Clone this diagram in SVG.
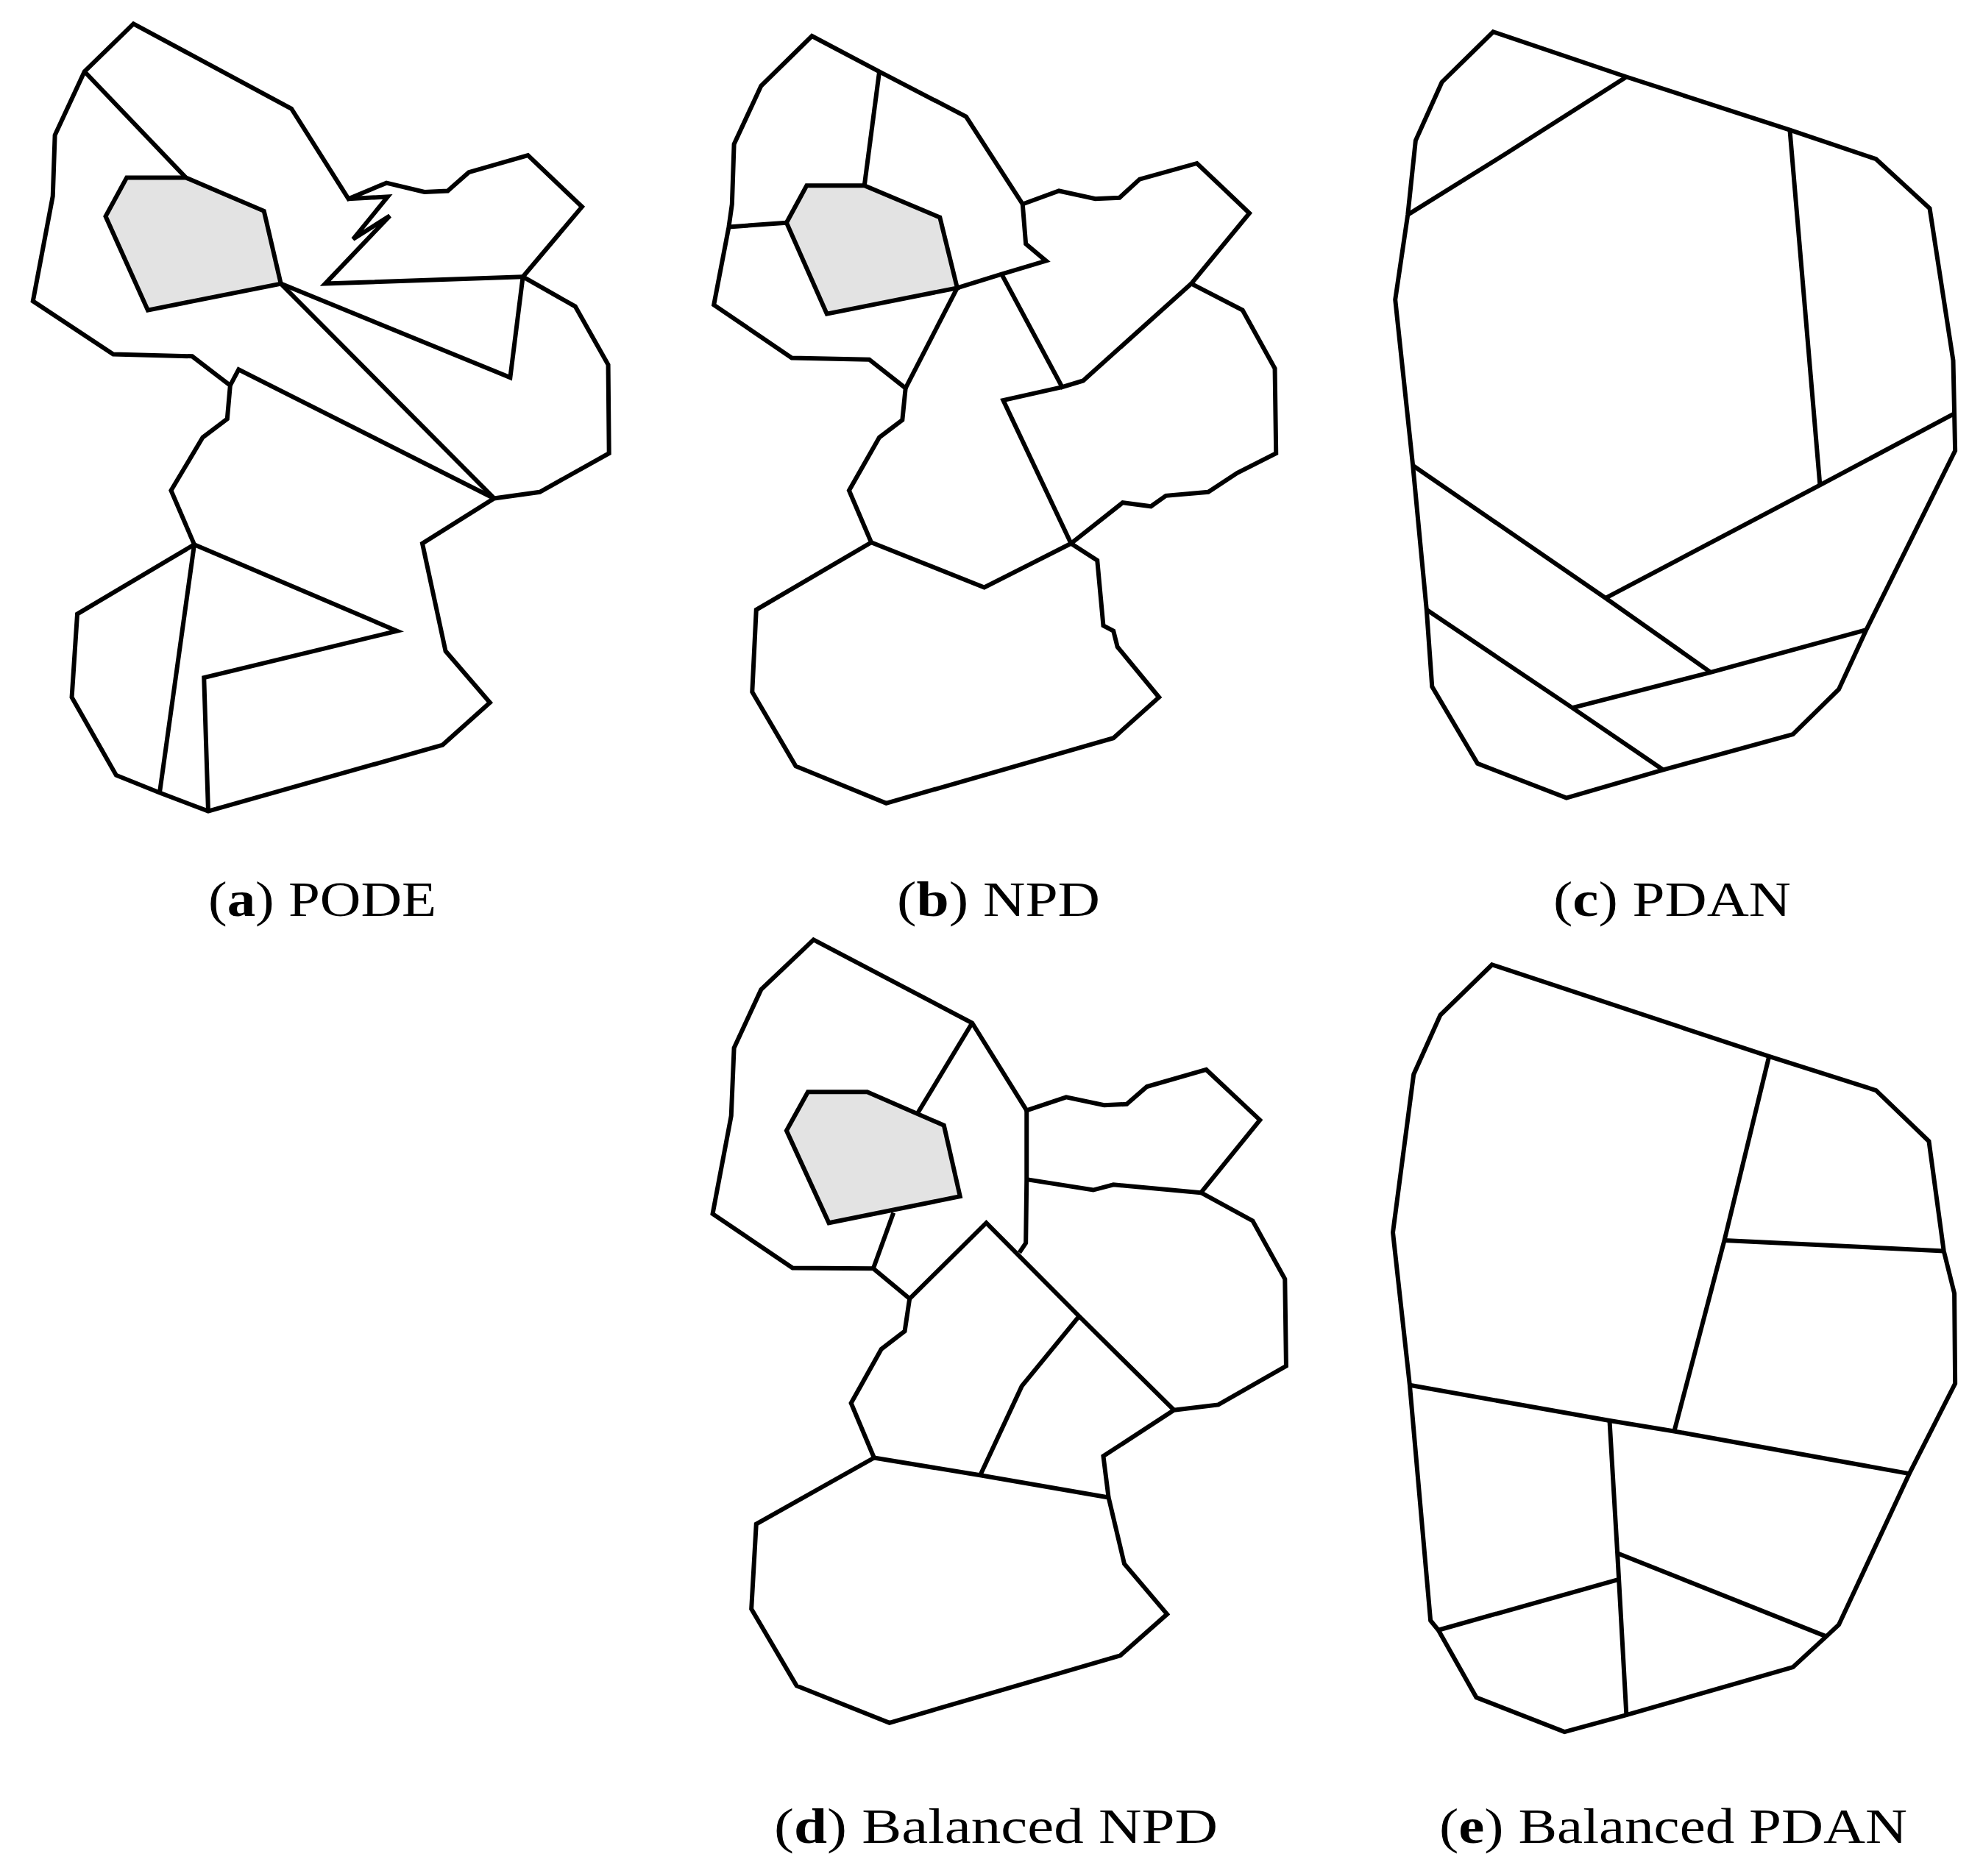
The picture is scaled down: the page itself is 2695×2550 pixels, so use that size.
<svg xmlns="http://www.w3.org/2000/svg" width="2695" height="2550" viewBox="0 0 2695 2550">
<style>
.e{fill:none;stroke:#000;stroke-width:6;stroke-linejoin:miter;stroke-miterlimit:6;vector-effect:non-scaling-stroke}
.g{fill:#e3e3e3;stroke:#000;stroke-width:6;stroke-linejoin:miter;vector-effect:non-scaling-stroke}
.lab{font-family:"Liberation Serif","DejaVu Serif",serif;font-size:68px;fill:#000}
.b{font-weight:bold}
</style>
<rect width="2695" height="2550" fill="#fff"/>
<g id="panel-a" transform="translate(0,0) scale(0.574,0.7207)">
<path class="e" d="M316,45 L690,205 L825,375 L915,345 L1005,362 L1060,360 L1110,325 L1250,293 L1378,390 L1238,522 L1362,578 L1440,688 L1442,855 L1278,928 L1170,940 L1000,1025 L1055,1228 L1160,1325 L1048,1405 L493,1530 L378,1495 L275,1462 L170,1315 L183,1158 L460,1027 L405,925 L480,825 L538,790 L545,727 L455,672 L268,668 L78,568 L125,370 L130,255 L200,135 Z"/>
<path class="e" d="M825,375 L918,371 L836,451 L923,407 L770,535 L1238,522"/>
<path class="e" d="M200,135 L440,335"/>
<path class="g" d="M300,335 L440,335 L625,398 L665,535 L350,585 L250,408 Z"/>
<path class="e" d="M665,535 L1208,712 L1238,522"/>
<path class="e" d="M665,535 L1170,940"/>
<path class="e" d="M545,727 L565,697 L1170,940"/>
<path class="e" d="M460,1027 L940,1190 L483,1278 L493,1530"/>
<path class="e" d="M460,1027 L378,1495"/>
</g>
<g id="panel-b" transform="translate(940,0) scale(0.5485,0.7207)">
<path class="e" d="M298,68 L465,135 L680,220 L820,385 L910,360 L1000,375 L1060,373 L1110,338 L1252,308 L1382,402 L1238,535 L1365,585 L1445,695 L1448,855 L1352,892 L1280,928 L1175,935 L1138,955 L1068,948 L940,1025 L1005,1057 L1020,1180 L1045,1190 L1055,1220 L1158,1315 L1045,1392 L482,1515 L258,1445 L150,1305 L160,1150 L445,1023 L390,925 L465,825 L522,792 L530,732 L440,678 L248,675 L55,575 L92,428 L100,385 L105,272 L172,162 Z"/>
<path class="e" d="M465,135 L428,350"/>
<path class="g" d="M285,350 L428,350 L615,410 L658,543 L335,592 L235,420 Z"/>
<path class="e" d="M92,428 L235,420"/>
<path class="e" d="M820,385 L828,460 L878,492 L768,517 L658,543"/>
<path class="e" d="M658,543 L530,732"/>
<path class="e" d="M768,517 L918,730 L970,718 L1238,535"/>
<path class="e" d="M918,730 L772,755 L940,1025"/>
<path class="e" d="M445,1023 L725,1108 L940,1025"/>
</g>
<g id="panel-c" transform="translate(1860,0) scale(0.5325,0.7207)">
<path class="e" d="M318,60 L658,145 L1075,245 L1295,300 L1432,393 L1492,680 L1495,780 L1497,850 L1270,1188 L1200,1300 L1083,1385 L752,1452 L505,1505 L278,1440 L162,1295 L148,1150 L113,878 L68,565 L100,405 L120,265 L187,155 Z"/>
<path class="e" d="M100,405 L350,290 L658,145"/>
<path class="e" d="M1075,245 L1152,915"/>
<path class="e" d="M1495,780 L1152,915 L605,1128"/>
<path class="e" d="M113,878 L605,1128 L873,1268"/>
<path class="e" d="M148,1150 L520,1335 L752,1452"/>
<path class="e" d="M520,1335 L873,1268 L1270,1188"/>
</g>
<g id="panel-d" transform="translate(940,1250) scale(0.5485,0.7207)">
<path class="e" d="M302,38 L695,195 L830,360 L928,335 L1022,350 L1078,348 L1128,315 L1275,283 L1408,378 L1262,515 L1390,568 L1470,678 L1473,842 L1305,915 L1195,925 L1020,1012 L1033,1090 L1072,1215 L1178,1310 L1062,1388 L490,1515 L260,1445 L148,1300 L160,1140 L452,1015 L395,912 L470,810 L528,776 L540,715 L450,658 L250,657 L52,555 L98,370 L105,242 L172,132 Z"/>
<path class="e" d="M695,195 L560,365"/>
<path class="g" d="M288,325 L435,325 L625,388 L665,522 L340,572 L235,398 Z"/>
<path class="e" d="M500,553 L450,658"/>
<path class="e" d="M830,360 L830,490 L828,610 L812,628"/>
<path class="e" d="M830,490 L995,510 L1045,500 L1262,515"/>
<path class="e" d="M540,715 L730,572 L960,748 L1195,925"/>
<path class="e" d="M960,748 L818,880 L715,1048"/>
<path class="e" d="M452,1015 L715,1048 L1033,1090"/>
</g>
<g id="panel-e" transform="translate(1860,1250) scale(0.5325,0.7207)">
<path class="e" d="M315,85 L1022,258 L1295,322 L1430,418 L1468,625 L1495,705 L1497,875 L1380,1045 L1200,1330 L1168,1352 L1083,1410 L658,1500 L500,1532 L275,1467 L178,1340 L158,1322 L105,878 L62,590 L115,292 L183,180 Z"/>
<path class="e" d="M1022,258 L908,605 L780,965"/>
<path class="e" d="M908,605 L1468,625"/>
<path class="e" d="M105,878 L615,945 L780,965 L1380,1045"/>
<path class="e" d="M615,945 L635,1195 L658,1500"/>
<path class="e" d="M178,1340 L635,1245"/>
<path class="e" d="M635,1195 L1168,1352"/>
</g>
<g id="labels">
<text class="lab" x="283" y="1245" textLength="310" lengthAdjust="spacingAndGlyphs">(<tspan class="b">a</tspan>) PODE</text>
<text class="lab" x="1219" y="1245" textLength="276" lengthAdjust="spacingAndGlyphs">(<tspan class="b">b</tspan>) NPD</text>
<text class="lab" x="2111" y="1245" textLength="323" lengthAdjust="spacingAndGlyphs">(<tspan class="b">c</tspan>) PDAN</text>
<text class="lab" x="1052" y="2505" textLength="603" lengthAdjust="spacingAndGlyphs">(<tspan class="b">d</tspan>) Balanced NPD</text>
<text class="lab" x="1956" y="2505" textLength="636" lengthAdjust="spacingAndGlyphs">(<tspan class="b">e</tspan>) Balanced PDAN</text>
</g>
</svg>
